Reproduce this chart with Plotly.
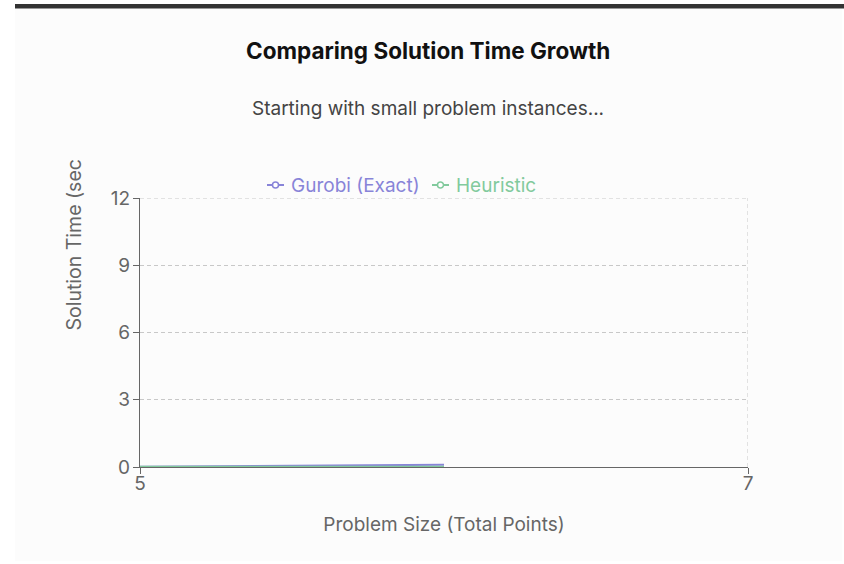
import plotly.graph_objects as go

# Solution time (seconds) against problem size (total points)
problem_size = [5, 6]
gurobi_time = [0.01, 0.1]
heuristic_time = [0.005, 0.01]

series_names = ["Gurobi (Exact)", "Heuristic"]
series_colors = ["#8884d8", "#82ca9d"]

y_ticks = [0, 3, 6, 9, 12]
x_ticks = [5, 7]

W, H = 844, 564
L, R, T, B = 140, 96, 198, 97
plot_w = W - L - R
plot_h = H - T - B


def px_x(px):
    return (px - L) / plot_w


def px_y(py):
    return (H - B - py) / plot_h


font_family = "Inter, 'Helvetica Neue', Arial, sans-serif"
grid_color = "#c8c8c8"
grid_dash = "4px,3px"
axis_color = "#666666"

fig = go.Figure()

for name, color, ys in zip(series_names, series_colors, [gurobi_time, heuristic_time]):
    fig.add_trace(go.Scatter(
        x=problem_size, y=ys, mode="lines", name=name,
        line=dict(color=color, width=2.2), showlegend=False,
        cliponaxis=False,
    ))

shapes = [
    # card background
    dict(type="rect", xref="paper", yref="paper", layer="below",
         x0=px_x(15), x1=px_x(842), y0=px_y(8), y1=px_y(561),
         fillcolor="#fcfcfc", line=dict(width=0)),
    # dark top strip
    dict(type="rect", xref="paper", yref="paper", layer="above",
         x0=px_x(15), x1=px_x(846), y0=px_y(4), y1=px_y(8.5),
         fillcolor="#333333", line=dict(width=0)),
    # grid lines along the far edges of the plot area
    dict(type="line", xref="x", yref="paper", layer="below",
         x0=7, x1=7, y0=0, y1=1, line=dict(color=grid_color, width=1, dash=grid_dash)),
    dict(type="line", xref="paper", yref="y", layer="below",
         x0=0, x1=1, y0=12, y1=12, line=dict(color=grid_color, width=1, dash=grid_dash)),
]

annotations = [
    dict(text="<b>Comparing Solution Time Growth</b>", xref="paper", yref="paper",
         x=px_x(428), y=px_y(51), xanchor="center", yanchor="middle", showarrow=False,
         font=dict(size=22.5, color="#111111", family=font_family)),
    dict(text="Starting with small problem instances...", xref="paper", yref="paper",
         x=px_x(428), y=px_y(108), xanchor="center", yanchor="middle", showarrow=False,
         font=dict(size=19, color="#444444", family=font_family)),
    dict(text="Solution Time (sec", xref="paper", yref="paper", textangle=-90,
         x=px_x(73), y=px_y(333), xanchor="center", yanchor="bottom", showarrow=False,
         font=dict(size=19.5, color=axis_color, family=font_family)),
]

# legend: short line with an open circle, followed by the series name
legend_items = [(267, series_names[0], series_colors[0]), (432, series_names[1], series_colors[1])]
ly = 185
for x0, name, color in legend_items:
    shapes.append(dict(type="line", xref="paper", yref="paper", layer="above",
                       x0=px_x(x0), x1=px_x(x0 + 17), y0=px_y(ly), y1=px_y(ly),
                       line=dict(color=color, width=2)))
    cx = x0 + 8.5
    shapes.append(dict(type="circle", xref="paper", yref="paper", layer="above",
                       x0=px_x(cx - 3), x1=px_x(cx + 3), y0=px_y(ly + 3), y1=px_y(ly - 3),
                       fillcolor="#ffffff", line=dict(color=color, width=1.5)))
    annotations.append(dict(text=name, xref="paper", yref="paper",
                            x=px_x(x0 + 22), y=px_y(ly), xanchor="left", yanchor="middle",
                            showarrow=False,
                            font=dict(size=19, color=color, family=font_family)))

fig.update_layout(
    width=W, height=H,
    margin=dict(l=L, r=R, t=T, b=B, autoexpand=False),
    paper_bgcolor="#ffffff",
    plot_bgcolor="rgba(0,0,0,0)",
    font=dict(family=font_family, color=axis_color, size=19),
    showlegend=False,
    xaxis=dict(
        range=[5, 7], tickvals=x_ticks, ticks="outside", ticklen=6, tickcolor=axis_color,
        showline=True, linecolor=axis_color, linewidth=1.2,
        showgrid=True, gridcolor=grid_color, griddash=grid_dash, gridwidth=1,
        zeroline=False, tickfont=dict(size=19, color=axis_color),
        ticklabelstandoff=-7,
        title=dict(text="Problem Size (Total Points)", font=dict(size=19, color=axis_color), standoff=23),
        fixedrange=True,
    ),
    yaxis=dict(
        range=[0, 12], tickvals=y_ticks, ticks="outside", ticklen=6, tickcolor=axis_color,
        showline=True, linecolor=axis_color, linewidth=1.2,
        showgrid=True, gridcolor=grid_color, griddash=grid_dash, gridwidth=1,
        zeroline=False, tickfont=dict(size=19, color=axis_color),
        ticklabelstandoff=-1,
        fixedrange=True,
    ),
    shapes=shapes,
    annotations=annotations,
)

fig.write_html("out.html", config={"displayModeBar": False})
